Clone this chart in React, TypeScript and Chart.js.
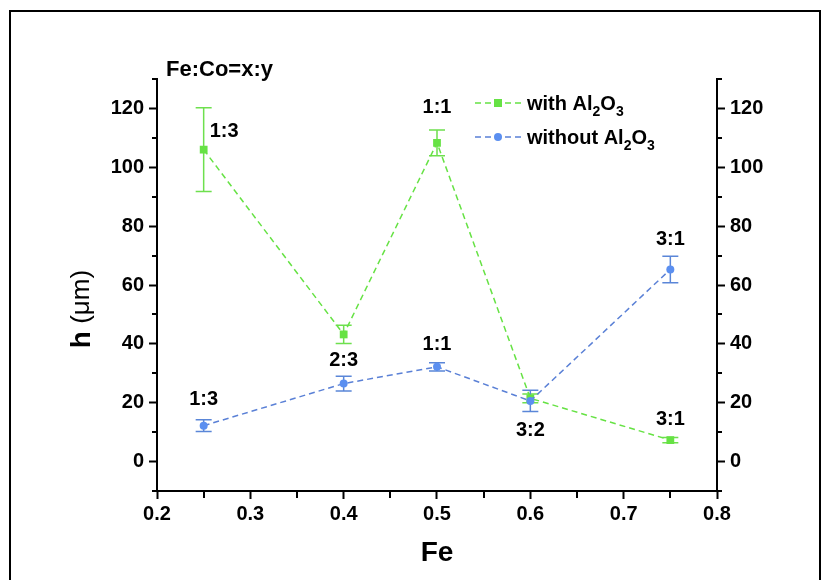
import React, { useEffect, useRef } from 'react';
import { Chart, registerables } from 'chart.js';

Chart.register(...registerables);

// ---- data ----
const feFraction = [0.25, 0.4, 0.5, 0.6, 0.75];
const withAl2O3 = [106, 43.2, 108.3, 21.5, 7.3];
const withAl2O3Err = [14.2, 3.1, 4.4, 1.5, 0.9];
const withoutAl2O3 = [12.2, 26.5, 32.2, 20.6, 65.3];
const withoutAl2O3Err = [2, 2.5, 1.4, 3.6, 4.5];
const withRatioLabels = ['1:3', '', '1:1', '', '3:1'];
const withoutRatioLabels = ['1:3', '2:3', '1:1', '3:2', '3:1'];
const seriesNames = ['with Al2O3', 'without Al2O3'];
const xTickValues = [0.2, 0.3, 0.4, 0.5, 0.6, 0.7, 0.8];
const xMinorTickValues = [0.25, 0.35, 0.45, 0.55, 0.65, 0.75];
const yTickValues = [0, 20, 40, 60, 80, 100, 120];
const yMinorTickValues = [-10, 10, 30, 50, 70, 90, 110, 130];
const xTitle = 'Fe';
const yTitleMain = 'h';
const yTitleUnit = ' (\u03bcm)';
const cornerNote = 'Fe:Co=x:y';

// ---- style ----
const FONT = "'Liberation Sans', Arial, sans-serif";
const GREEN = '#66e244';
const GREEN_ERR = '#6ee04e';
const BLUE_LINE = '#5a80d6';
const BLUE_PT = '#5b8ff0';
const BLUE_ERR = '#5a86d8';

const withLabelOffsets: any[] = [
  { dx: 6, dy: -18, align: 'left' },
  null,
  { dx: 0, dy: -35, align: 'center' },
  null,
  { dx: 0, dy: -21, align: 'center' },
];
const withoutLabelOffsets: any[] = [
  { dx: 0, dy: -26, align: 'center' },
  { dx: 0, dy: -23, align: 'center' },
  { dx: 0, dy: -22, align: 'center' },
  { dx: 0, dy: 29.5, align: 'center' },
  { dx: 0, dy: -30, align: 'center' },
];

function drawFormula(ctx: CanvasRenderingContext2D, text: string, x: number, baseline: number, size: number, subSize: number) {
  const parts = text.split(/(\d+)/);
  let cx = x;
  ctx.textAlign = 'left';
  ctx.textBaseline = 'alphabetic';
  parts.forEach((p) => {
    if (!p) return;
    if (/^\d+$/.test(p)) {
      ctx.font = `bold ${subSize}px ${FONT}`;
      ctx.fillText(p, cx, baseline + 6);
    } else {
      ctx.font = `bold ${size}px ${FONT}`;
      ctx.fillText(p, cx, baseline);
    }
    cx += ctx.measureText(p).width;
  });
}

const errorBarPlugin = {
  id: 'errorBars',
  beforeDatasetsDraw(chart: any) {
    const { ctx } = chart;
    const x = chart.scales.x;
    const y = chart.scales.y;
    const sets: any[] = [
      [withAl2O3, withAl2O3Err, GREEN_ERR],
      [withoutAl2O3, withoutAl2O3Err, BLUE_ERR],
    ];
    ctx.save();
    ctx.lineWidth = 1.5;
    sets.forEach(([vals, errs, color]) => {
      ctx.strokeStyle = color;
      vals.forEach((v: number, i: number) => {
        const px = x.getPixelForValue(feFraction[i]);
        const top = y.getPixelForValue(v + errs[i]);
        const bot = y.getPixelForValue(v - errs[i]);
        ctx.beginPath();
        ctx.moveTo(px, top);
        ctx.lineTo(px, bot);
        ctx.moveTo(px - 8, top);
        ctx.lineTo(px + 8, top);
        ctx.moveTo(px - 8, bot);
        ctx.lineTo(px + 8, bot);
        ctx.stroke();
      });
    });
    ctx.restore();
  },
};

const decorPlugin = {
  id: 'decor',
  afterDraw(chart: any) {
    const { ctx, chartArea } = chart;
    const x = chart.scales.x;
    const y = chart.scales.y;
    ctx.save();
    ctx.strokeStyle = '#000';
    ctx.fillStyle = '#000';
    ctx.lineWidth = 2;
    // minor ticks
    ctx.beginPath();
    yMinorTickValues.forEach((v) => {
      const py = Math.round(y.getPixelForValue(v)) + 0.0;
      ctx.moveTo(chartArea.left - 5, py);
      ctx.lineTo(chartArea.left, py);
      ctx.moveTo(chartArea.right, py);
      ctx.lineTo(chartArea.right + 5, py);
    });
    xMinorTickValues.forEach((v) => {
      const px = Math.round(x.getPixelForValue(v));
      ctx.moveTo(px, chartArea.bottom);
      ctx.lineTo(px, chartArea.bottom + 7);
    });
    ctx.stroke();

    // frame
    ctx.lineWidth = 2;
    ctx.strokeRect(10, 11, 810, 700);

    // corner note
    ctx.font = `bold 22px ${FONT}`;
    ctx.textAlign = 'left';
    ctx.textBaseline = 'alphabetic';
    ctx.fillText(cornerNote, 166, 76);

    // x title
    ctx.font = `bold 28px ${FONT}`;
    ctx.textAlign = 'center';
    ctx.textBaseline = 'middle';
    ctx.fillText(xTitle, (chartArea.left + chartArea.right) / 2, 553);

    // y title
    ctx.save();
    ctx.translate(82, 309);
    ctx.rotate(-Math.PI / 2);
    ctx.font = `bold 28px ${FONT}`;
    const w1 = ctx.measureText(yTitleMain).width;
    ctx.font = `26px ${FONT}`;
    const w2 = ctx.measureText(yTitleUnit).width;
    const start = -(w1 + w2) / 2;
    ctx.textAlign = 'left';
    ctx.textBaseline = 'middle';
    ctx.font = `bold 28px ${FONT}`;
    ctx.fillText(yTitleMain, start, 0);
    ctx.font = `26px ${FONT}`;
    ctx.fillText(yTitleUnit, start + w1, 0);
    ctx.restore();

    // ratio labels
    ctx.font = `bold 20px ${FONT}`;
    ctx.textBaseline = 'middle';
    const drawLabels = (vals: number[], labels: string[], offs: any[]) => {
      vals.forEach((v, i) => {
        const o = offs[i];
        if (!labels[i] || !o) return;
        const px = x.getPixelForValue(feFraction[i]);
        const py = y.getPixelForValue(v);
        ctx.textAlign = o.align;
        ctx.fillText(labels[i], px + o.dx, py + o.dy);
      });
    };
    drawLabels(withAl2O3, withRatioLabels, withLabelOffsets);
    drawLabels(withoutAl2O3, withoutRatioLabels, withoutLabelOffsets);

    // legend
    const rows = [
      { cy: 103, base: 110, line: GREEN, pt: GREEN, style: 'rect' },
      { cy: 137, base: 144, line: BLUE_LINE, pt: BLUE_PT, style: 'circle' },
    ];
    rows.forEach((r, i) => {
      ctx.strokeStyle = r.line;
      ctx.lineWidth = 1.5;
      ctx.setLineDash([6, 4]);
      ctx.beginPath();
      ctx.moveTo(475, r.cy);
      ctx.lineTo(522, r.cy);
      ctx.stroke();
      ctx.setLineDash([]);
      ctx.fillStyle = r.pt;
      if (r.style === 'rect') {
        ctx.fillRect(498 - 4, r.cy - 4, 8, 8);
      } else {
        ctx.beginPath();
        ctx.arc(498, r.cy, 4, 0, Math.PI * 2);
        ctx.fill();
      }
      ctx.fillStyle = '#000';
      drawFormula(ctx, seriesNames[i], 527, r.base, 20, 14);
    });
    ctx.restore();
  },
};

const tickFont = { family: FONT, size: 20, weight: 'bold' as const };

export default function App() {
  const ref = useRef<HTMLCanvasElement | null>(null);
  useEffect(() => {
    if (!ref.current) return;
    const yScale = (position: 'left' | 'right', width: number) => ({
      type: 'linear' as const,
      position,
      display: true,
      min: -10,
      max: 130,
      afterBuildTicks: (s: any) => {
        s.ticks = yTickValues.map((v) => ({ value: v }));
      },
      afterFit: (s: any) => {
        s.width = width;
      },
      ticks: {
        callback: (v: any) => String(v),
        font: tickFont,
        color: '#000',
        padding: 5,
      },
      grid: {
        drawOnChartArea: false,
        tickLength: 8,
        tickWidth: 2,
        tickColor: '#000',
      },
      border: { color: '#000', width: 2 },
    });
    const chart = new Chart(ref.current, {
      type: 'line',
      data: {
        datasets: [
          {
            label: seriesNames[0],
            data: feFraction.map((f, i) => ({ x: f, y: withAl2O3[i] })),
            borderColor: GREEN,
            backgroundColor: GREEN,
            borderWidth: 1.5,
            borderDash: [6, 4],
            pointStyle: 'rect',
            pointRadius: 5.5,
            pointBorderWidth: 0,
            order: 1,
          },
          {
            label: seriesNames[1],
            data: feFraction.map((f, i) => ({ x: f, y: withoutAl2O3[i] })),
            borderColor: BLUE_LINE,
            backgroundColor: BLUE_PT,
            borderWidth: 1.5,
            borderDash: [6, 4],
            pointStyle: 'circle',
            pointRadius: 4,
            pointBorderWidth: 0,
            order: 0,
          },
        ],
      },
      options: {
        animation: false,
        responsive: false,
        devicePixelRatio: 1,
        layout: { padding: { top: 79, left: 0, right: 0, bottom: 0 } },
        plugins: {
          legend: { display: false },
          tooltip: { enabled: false },
        },
        scales: {
          x: {
            type: 'linear',
            min: 0.2,
            max: 0.8,
            afterBuildTicks: (s: any) => {
              s.ticks = xTickValues.map((v) => ({ value: v }));
            },
            afterFit: (s: any) => {
              s.height = 89;
            },
            ticks: {
              callback: (v: any) => Number(v).toFixed(1),
              font: tickFont,
              color: '#000',
              padding: 3,
              maxRotation: 0,
              autoSkip: false,
            },
            grid: {
              drawOnChartArea: false,
              tickLength: 8,
              tickWidth: 2,
              tickColor: '#000',
            },
            border: { color: '#000', width: 2 },
          },
          y: yScale('left', 157),
          y2: yScale('right', 105),
        },
      } as any,
      plugins: [errorBarPlugin, decorPlugin],
    });
    return () => chart.destroy();
  }, []);
  return (
    <div style={{ position: 'absolute', left: 0, top: 0, width: 822, height: 580, background: '#fff' }}>
      <canvas ref={ref} width={822} height={580} style={{ display: 'block' }} />
    </div>
  );
}
